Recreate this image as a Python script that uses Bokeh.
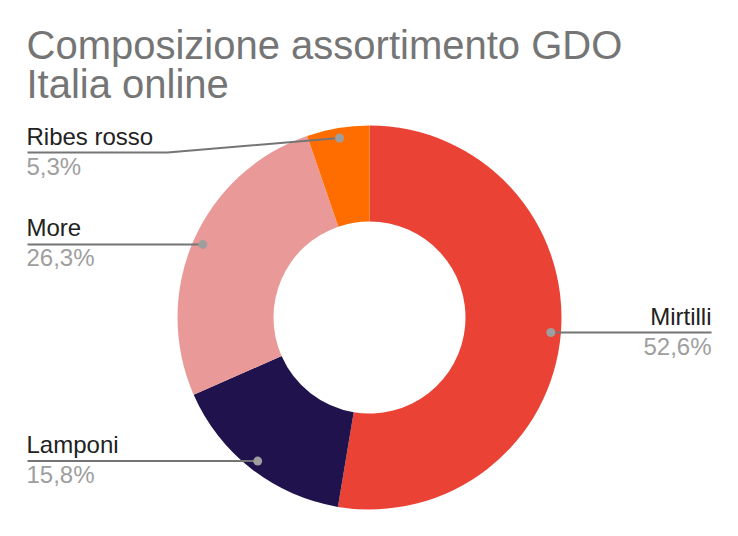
import numpy as np
from bokeh.plotting import figure
from bokeh.models import Range1d, ColumnDataSource
from bokeh.core.properties import value
from bokeh.embed import file_html
from bokeh.resources import INLINE

# ---- data ----
title_lines = ["Composizione assortimento GDO", "Italia online"]
categories = ["Mirtilli", "Lamponi", "More", "Ribes rosso"]
values = [10, 3, 5, 1]
colors = ["#EA4335", "#20124D", "#EA9999", "#FF6D01"]

# ---- layout ----
PW, PH = 738, 536
FONT = "Liberation Sans"


def Y(py):
    return PH - py


p = figure(width=722, height=520, output_backend="svg", toolbar_location=None,
           x_range=Range1d(0, 722), y_range=Range1d(16, 536),
           min_border=0, outline_line_color=None)
p.axis.visible = False
p.grid.visible = False
p.background_fill_color = "white"
p.border_fill_color = "white"

cx, cy = 369, 317
r_out, r_in, r_dot = 192, 96, 182

vals = np.array(values, dtype=float)
frac = vals / vals.sum()
cum = np.concatenate([[0], np.cumsum(frac)])
start = np.pi / 2 - 2 * np.pi * cum[:-1]
end = np.pi / 2 - 2 * np.pi * cum[1:]

src = ColumnDataSource(dict(start=start, end=end, color=colors))
p.annular_wedge(x=cx, y=Y(cy), inner_radius=r_in, outer_radius=r_out,
                inner_radius_units="screen", outer_radius_units="screen",
                start_angle="start", end_angle="end", direction="clock",
                fill_color="color", line_color=None, source=src)

# labels
mid = (cum[:-1] + cum[1:]) / 2 * 2 * np.pi
dot_x = cx + r_dot * np.sin(mid)
dot_y = cy - r_dot * np.cos(mid)
pct = [f"{f*100:.1f}".replace(".", ",") + "%" for f in frac]

left_x, right_x, elbow_x, min_y = 27, 711, 167, 152
LAB_SHIFT = 8.5    # compensation for baseline placement
TITLE_SHIFT = 14.5
for name, pc, dx, dy in zip(categories, pct, dot_x, dot_y):
    ly = max(dy, min_y)
    if dx > cx:
        xs = [dx, right_x]
        ys = [Y(dy), Y(dy)]
        tx, align = right_x, "right"
    else:
        xs = [left_x, elbow_x, dx]
        ys = [Y(ly), Y(ly), Y(dy)]
        tx, align = left_x - 1, "left"
    p.line(xs, ys, line_color="#757575", line_width=2)
    p.scatter([dx], [Y(dy)], size=9, marker="circle", fill_color="#9E9E9E",
              line_color=None)
    p.text([tx], [Y(ly - 8 - LAB_SHIFT)], text=[name], text_font=value(FONT),
           text_font_size="24px", text_color="#222222", text_align=align,
           text_baseline="alphabetic")
    p.text([tx], [Y(ly + 22 - LAB_SHIFT)], text=[pc], text_font=value(FONT),
           text_font_size="24px", text_color="#9E9E9E", text_align=align,
           text_baseline="alphabetic")

# title
for line, by in zip(title_lines, [59, 98]):
    p.text([26], [Y(by - TITLE_SHIFT)], text=[line], text_font=value(FONT),
           text_font_size="40px", text_color="#757575", text_align="left",
           text_baseline="alphabetic")

open("out.html", "w").write(file_html(p, INLINE))
